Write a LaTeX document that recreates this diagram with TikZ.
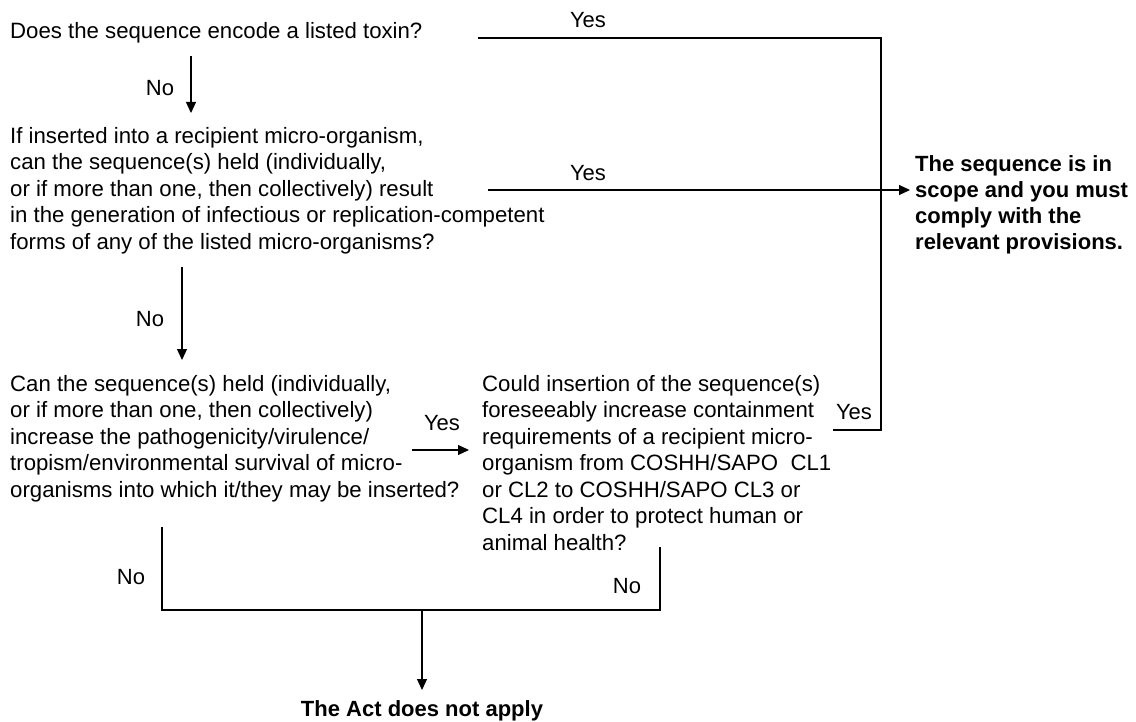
\documentclass[tikz,border=0pt]{standalone}
\usepackage{fontspec}
\setmainfont{Liberation Sans}
\usetikzlibrary{arrows.meta}
\begin{document}
\begin{tikzpicture}[x=1pt,y=-1pt,
  txt/.style={inner sep=0pt,align=left,anchor=north west,font=\fontsize{22.2}{26.5}\selectfont},
  btxt/.style={txt,font=\fontsize{22}{26}\selectfont\bfseries},
  lbl/.style={inner sep=0pt,font=\fontsize{22}{26}\selectfont},
  ln/.style={line width=1.1pt},
  arr/.style={line width=1.1pt,-{Triangle[length=11pt,width=10pt]}}]
\useasboundingbox (0,0) rectangle (1136,722);
\node[txt,anchor=west] (q1) at (10,33) {Does the sequence encode a listed toxin?};
\node[txt] (q2) at (10,127) {If inserted into a recipient micro-organism,\\can the sequence(s) held (individually,\\or if more than one, then collectively) result\\in the generation of infectious or replication-competent\\forms of any of the listed micro-organisms?};
\node[btxt] (yes) at (915,155) {The sequence is in\\scope and you must\\comply with the\\relevant provisions.};
\node[txt] (q3) at (10,375) {Can the sequence(s) held (individually,\\or if more than one, then collectively)\\increase the pathogenicity/virulence/\\tropism/environmental survival of micro-\\organisms into which it/they may be inserted?};
\node[txt] (q4) at (482,375) {Could insertion of the sequence(s)\\foreseeably increase containment\\requirements of a recipient micro-\\organism from COSHH/SAPO\ \ CL1\\or CL2 to COSHH/SAPO CL3 or\\CL4 in order to protect human or\\animal health?};
\node[inner sep=0pt,font=\fontsize{22}{26}\selectfont\bfseries,anchor=center] (act) at (422,711) {The Act does not apply};
% coordinates
\coordinate (a1s) at (191,56); \coordinate (a1e) at (191,113);
\coordinate (t1) at (478,38); \coordinate (t2) at (881,38); \coordinate (t3) at (881,430); \coordinate (t4) at (833,430);
\coordinate (y2s) at (488,190); \coordinate (y2e) at (910,190);
\coordinate (a2s) at (182,267); \coordinate (a2e) at (182,360);
\coordinate (y3s) at (412,450); \coordinate (y3e) at (469,450);
\coordinate (b1) at (162,527); \coordinate (b2) at (162,610); \coordinate (b3) at (660,610); \coordinate (b4) at (660,547);
\coordinate (bm) at (422,610); \coordinate (be) at (422,690);
% connectors
\draw[arr] (a1s) -- (a1e);
\node[lbl] (no1) at (160,88) {No};
\draw[ln] (t1) -- (t2) -- (t3) -- (t4);
\node[lbl] (yes1) at (588,20) {Yes};
\draw[arr] (y2s) -- (y2e);
\node[lbl] (yes2) at (588,173) {Yes};
\draw[arr] (a2s) -- (a2e);
\node[lbl] (no2) at (150,319) {No};
\draw[arr] (y3s) -- (y3e);
\node[lbl] (yes3) at (442,423) {Yes};
\node[lbl] (yes4) at (854,412) {Yes};
\draw[ln] (b1) -- (b2) -- (b3) -- (b4);
\node[lbl] (no3) at (131,577) {No};
\node[lbl] (no4) at (627,586) {No};
\draw[arr] (bm) -- (be);
\end{tikzpicture}
\end{document}
